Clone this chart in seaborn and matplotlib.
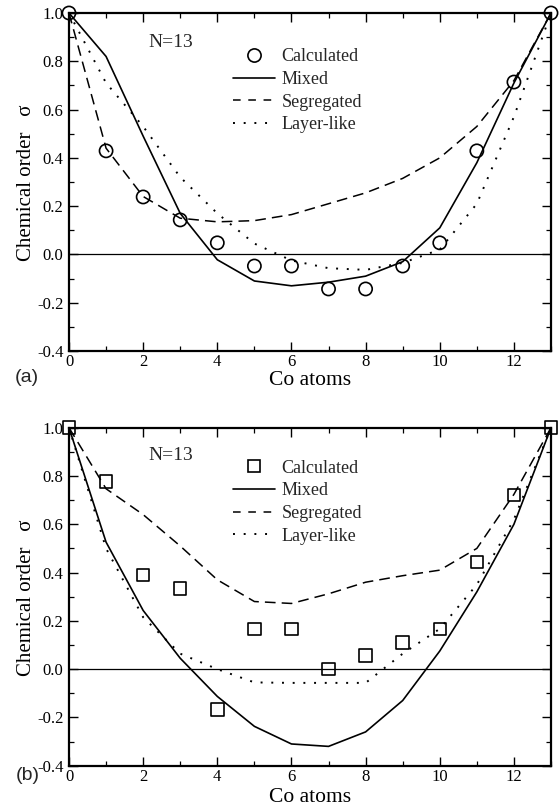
import numpy as np
import pandas as pd
import matplotlib
matplotlib.use("Agg")
import matplotlib.pyplot as plt
from matplotlib.lines import Line2D
from matplotlib.ticker import MultipleLocator, FixedLocator, FixedFormatter
import seaborn as sns

# ---------------- data ----------------
co_atoms = list(range(14))

calc_a = [1.0, 0.429, 0.238, 0.143, 0.048, -0.048, -0.048, -0.143, -0.143, -0.048, 0.048, 0.429, 0.714, 1.0]
mixed_a = [1.0, 0.82, 0.49, 0.17, -0.022, -0.11, -0.13, -0.115, -0.09, -0.03, 0.11, 0.38, 0.71, 1.0]
seg_a = [1.0, 0.44, 0.24, 0.15, 0.135, 0.14, 0.165, 0.21, 0.255, 0.315, 0.40, 0.53, 0.72, 1.0]
layer_a = [1.0, 0.71, 0.53, 0.32, 0.17, 0.045, -0.025, -0.057, -0.064, -0.035, 0.02, 0.21, 0.57, 1.0]

calc_b = [1.0, 0.778, 0.389, 0.333, -0.167, 0.167, 0.167, 0.0, 0.056, 0.111, 0.167, 0.444, 0.722, 1.0]
mixed_b = [1.0, 0.526, 0.243, 0.045, -0.113, -0.237, -0.31, -0.32, -0.26, -0.13, 0.075, 0.32, 0.60, 1.0]
seg_b = [1.0, 0.747, 0.64, 0.51, 0.37, 0.28, 0.272, 0.312, 0.36, 0.387, 0.41, 0.50, 0.724, 1.0]
layer_b = [1.0, 0.50, 0.215, 0.064, 0.0, -0.055, -0.057, -0.057, -0.057, 0.064, 0.167, 0.35, 0.62, 1.0]

legend_labels = ["Calculated", "Mixed", "Segregated", "Layer-like"]
x_ticks = [0, 2, 4, 6, 8, 10, 12]
y_ticks = [-0.4, -0.2, 0.0, 0.2, 0.4, 0.6, 0.8, 1.0]
y_tick_labels = ["-0.4", "-0.2", "0.0", "0.2", "0.4", "0.6", "0.8", "1.0"]
panel_labels = ["(a)", "(b)"]
cluster_text = "N=13"
x_label = "Co atoms"
y_label = "Chemical order   \u03c3"

# ---------------- style ----------------
sns.set_theme(style="ticks")
plt.rcParams["font.family"] = ["Liberation Serif", "DejaVu Serif"]
plt.rcParams["axes.unicode_minus"] = False
plt.rcParams["axes.edgecolor"] = "black"

W, H = 559, 807
fig = plt.figure(figsize=(W / 100, H / 100), dpi=100)

ax_left = 69 / W
ax_w = (551 - 69) / W
ax_h = 338 / H
ax_a = fig.add_axes([ax_left, 1 - 351 / H, ax_w, ax_h])
ax_b = fig.add_axes([ax_left, 1 - 765.7 / H, ax_w, ax_h])

SOLID = "-"
DASHED = (0, (7, 4))
DOTTED = (0, (1, 4.5))


def draw(ax, calc, mixed, seg, layer, marker, ms, leg_y, n_y, xlab_y):
    df = pd.DataFrame({"co": co_atoms, "calc": calc, "mixed": mixed,
                       "seg": seg, "layer": layer})
    ax.axhline(0.0, color="black", lw=0.9, zorder=1)
    sns.lineplot(data=df, x="co", y="mixed", ax=ax, color="black", lw=1.2,
                 linestyle=SOLID, zorder=3)
    sns.lineplot(data=df, x="co", y="seg", ax=ax, color="black", lw=1.1,
                 linestyle=DASHED, zorder=3)
    sns.lineplot(data=df, x="co", y="layer", ax=ax, color="black", lw=1.4,
                 linestyle=DOTTED, zorder=3)
    sns.scatterplot(data=df, x="co", y="calc", ax=ax, marker=marker,
                    s=ms ** 2, facecolor="none", edgecolor="black",
                    linewidth=1.2, zorder=4, clip_on=False)

    ax.set_xlim(0, 13)
    ax.set_ylim(-0.4, 1.0)
    ax.xaxis.set_major_locator(FixedLocator(x_ticks))
    ax.xaxis.set_major_formatter(FixedFormatter([str(t) for t in x_ticks]))
    ax.xaxis.set_minor_locator(MultipleLocator(1))
    ax.yaxis.set_major_locator(FixedLocator(y_ticks))
    ax.yaxis.set_major_formatter(FixedFormatter(y_tick_labels))
    ax.yaxis.set_minor_locator(MultipleLocator(0.1))
    ax.tick_params(which="both", direction="in", top=True, right=True,
                   labelsize=12, color="black", labelcolor="black")
    ax.tick_params(axis="x", which="major", length=6.5, width=1.0, pad=2.5)
    ax.tick_params(axis="y", which="major", length=6.5, width=1.0, pad=4)
    ax.tick_params(which="minor", length=3.5, width=0.9)
    for s in ax.spines.values():
        s.set_linewidth(1.6)
        s.set_color("black")

    ax.set_xlabel(x_label, fontsize=15.5, color="black")
    ax.xaxis.label.set_va("center")
    ax.xaxis.set_label_coords(0.5, xlab_y)
    ax.set_ylabel(y_label, fontsize=15, color="black")
    ax.yaxis.set_label_coords(-0.068, 0.497)

    ax.text(0.1645, n_y, cluster_text, transform=ax.transAxes,
            fontsize=14, va="baseline", ha="left")

    handles = [
        Line2D([], [], marker=marker, markersize=ms, markerfacecolor="none",
               markeredgecolor="black", markeredgewidth=1.2, linestyle="none"),
        Line2D([], [], color="black", lw=1.2, linestyle=SOLID),
        Line2D([], [], color="black", lw=1.1, linestyle=(0, (5, 5))),
        Line2D([], [], color="black", lw=1.4, linestyle=DOTTED),
    ]
    ax.legend(handles, legend_labels, loc="upper left",
              bbox_to_anchor=(0.340, leg_y), frameon=False, fontsize=13,
              handlelength=2.33, handletextpad=0.37, labelspacing=0.31,
              borderpad=0, borderaxespad=0)


draw(ax_a, calc_a, mixed_a, seg_a, layer_a, "o", 9.5, 0.895, 0.900, -0.088)
draw(ax_b, calc_b, mixed_b, seg_b, layer_b, "s", 9.0, 0.905, 0.904, -0.094)

fig.text(15 / W, 1 - 377 / H, panel_labels[0], fontsize=14, va="center",
         ha="left", family=["Liberation Sans", "DejaVu Sans"])
fig.text(16 / W, 1 - 776 / H, panel_labels[1], fontsize=14, va="center",
         ha="left", family=["Liberation Sans", "DejaVu Sans"])

fig.savefig("out.png", dpi=100)
